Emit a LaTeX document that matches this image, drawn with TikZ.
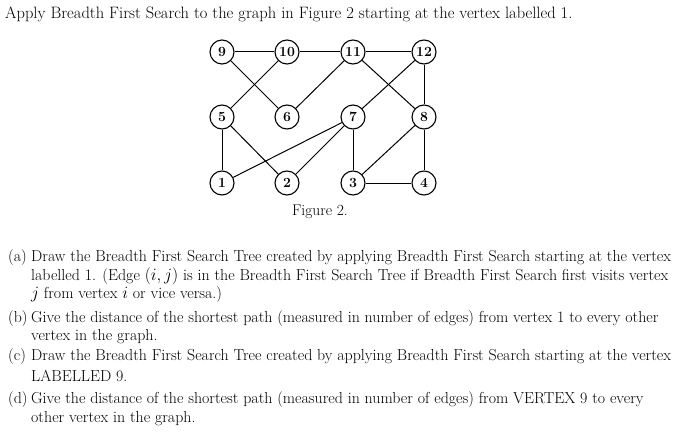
\documentclass[tikz,border=0pt]{standalone}
\usepackage{fontspec}
\begin{document}
\begin{tikzpicture}[x=1pt,y=-1pt,
  v/.style={circle,draw,line width=1.1pt,minimum size=24pt,inner sep=0pt,font=\fontsize{14}{14}\selectfont\bfseries},
  e/.style={line width=1pt},
  t/.style={anchor=west,inner sep=0pt,font=\fontsize{15.9}{16}\selectfont}]
\useasboundingbox (0,0) rectangle (687,433);
\node[t,font=\fontsize{16.5}{17}\selectfont] (title) at (5,14) {Apply Breadth First Search to the graph in Figure 2 starting at the vertex labelled 1.};
\foreach \n/\x/\y in {9/222/52,10/287/52,11/353/52,12/424/52,5/222/117,6/287/117,7/353/117,8/424/117,1/222/183,2/287/183,3/353/183,4/424/183}
  \node[v] (n\n) at (\x,\y) {\n};
\foreach \a/\b in {9/10,10/11,11/12,9/6,10/5,11/6,11/8,12/7,12/8,5/1,5/2,7/1,7/2,7/3,8/3,8/4,3/4}
  \draw[e] (n\a) -- (n\b);
\node[inner sep=0pt,font=\fontsize{15.5}{16}\selectfont] (cap) at (320,212) {Figure 2.};
\node[t] (a1) at (8,258) {(a)};
\node[t] (a2) at (31,258) {Draw the Breadth First Search Tree created by applying Breadth First Search starting at the vertex};
\node[t] (a3) at (31,276) {labelled 1. (Edge $(i,j)$ is in the Breadth First Search Tree if Breadth First Search first visits vertex};
\node[t] (a4) at (31,295) {$j$ from vertex $i$ or vice versa.)};
\node[t] (b1) at (8,319) {(b)};
\node[t] (b2) at (31,319) {Give the distance of the shortest path (measured in number of edges) from vertex 1 to every other};
\node[t] (b3) at (31,337) {vertex in the graph.};
\node[t] (c1) at (8,357) {(c)};
\node[t] (c2) at (31,357) {Draw the Breadth First Search Tree created by applying Breadth First Search starting at the vertex};
\node[t] (c3) at (31,376) {LABELLED 9.};
\node[t] (d1) at (8,400) {(d)};
\node[t] (d2) at (31,400) {Give the distance of the shortest path (measured in number of edges) from VERTEX 9 to every};
\node[t] (d3) at (31,419) {other vertex in the graph.};
\end{tikzpicture}
\end{document}
